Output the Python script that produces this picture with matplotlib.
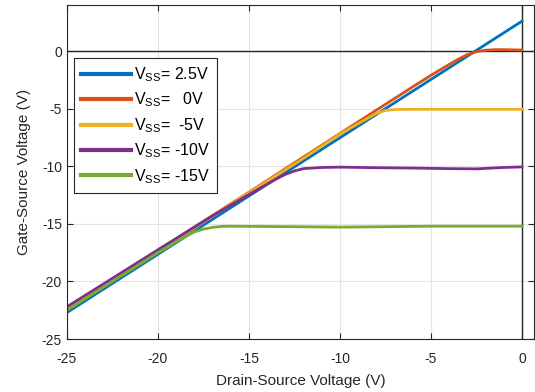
import matplotlib.pyplot as plt

plt.rcParams['font.family'] = ['Liberation Sans', 'DejaVu Sans']
plt.rcParams['mathtext.fontset'] = 'custom'
plt.rcParams['mathtext.rm'] = 'Liberation Sans'
plt.rcParams['mathtext.it'] = 'Liberation Sans'
plt.rcParams['axes.unicode_minus'] = False

# data (drain-source voltage vs gate-source voltage)
vds_blue = [-25, 0]
vgs_blue = [-22.7, 2.6]

vds_orange = [-25, -20, -15, -10, -6, -5, -4, -3.5, -3, -2.5, -2, -1.5, -1, 0]
vgs_orange = [-22.35, -17.3, -12.25, -7.15, -3.1, -2.1, -1.15, -0.7, -0.3, -0.05, 0.08, 0.13, 0.13, 0.1]

vds_yellow = [-25, -20, -15, -12, -10, -9, -8.5, -8, -7.5, -7, -6, -4, -2, 0]
vgs_yellow = [-22.45, -17.4, -12.3, -9.3, -7.2, -6.3, -5.85, -5.4, -5.15, -5.07, -5.05, -5.05, -5.05, -5.05]

vds_purple = [-25, -20, -17, -15, -14, -13.5, -13, -12.5, -12, -11, -10, -8, -6, -4, -2.5, -1, 0]
vgs_purple = [-22.2, -17.25, -14.3, -12.45, -11.55, -11.1, -10.7, -10.4, -10.2, -10.1, -10.07, -10.12, -10.15, -10.2, -10.22, -10.1, -10.05]

vds_green = [-25, -20, -18.5, -18, -17.5, -17, -16.5, -16, -12, -10, -8, -5, 0]
vgs_green = [-22.5, -17.5, -16.1, -15.7, -15.45, -15.3, -15.22, -15.2, -15.25, -15.28, -15.25, -15.2, -15.2]

labels = ['V$_{\\rm SS}$= 2.5V', 'V$_{\\rm SS}$=   0V', 'V$_{\\rm SS}$=  -5V',
          'V$_{\\rm SS}$= -10V', 'V$_{\\rm SS}$= -15V']
colors = ['#0072BD', '#D95319', '#EDB120', '#7E2F8E', '#77AC30']

fig = plt.figure(figsize=(5.35, 3.92), dpi=100)
ax = fig.add_axes([0.125, 0.135, 0.873, 0.852])

ax.axhline(0, color='#262626', lw=1.0, zorder=1)
ax.axvline(0, color='#262626', lw=1.0, zorder=1)

series = [(vds_blue, vgs_blue), (vds_orange, vgs_orange), (vds_yellow, vgs_yellow),
          (vds_purple, vgs_purple), (vds_green, vgs_green)]
for (x, y), c, lab in zip(series, colors, labels):
    ax.plot(x, y, color=c, lw=2.0, label=lab, zorder=2)

ax.set_xlim(-25, 0.66)
ax.set_ylim(-25, 4)
ax.set_xticks([-25, -20, -15, -10, -5, 0])
ax.set_yticks([-25, -20, -15, -10, -5, 0])
ax.grid(True, color='#e3e3e3', lw=0.8)
ax.set_axisbelow(True)

for s in ax.spines.values():
    s.set_color('#262626')
    s.set_linewidth(0.8)
ax.tick_params(direction='in', length=4, width=0.8, top=True, right=True,
               colors='#262626', labelsize=10, labelcolor='#262626')
ax.tick_params(axis='x', pad=9)

ax.set_xlabel('Drain-Source Voltage (V)', fontsize=11, color='#262626', labelpad=6)
ax.set_ylabel('Gate-Source Voltage (V)', fontsize=11, color='#262626', labelpad=7.5)

leg = ax.legend(loc='upper left', bbox_to_anchor=(0.015, 0.841), fontsize=11.5,
                handlelength=3.1, handletextpad=0.2, labelspacing=0.42,
                borderaxespad=0, borderpad=0.45,
                fancybox=False, framealpha=1, edgecolor='#262626')
leg.get_frame().set_linewidth(0.8)
for line in leg.get_lines():
    line.set_linewidth(3)

plt.savefig('out.png', dpi=100)
